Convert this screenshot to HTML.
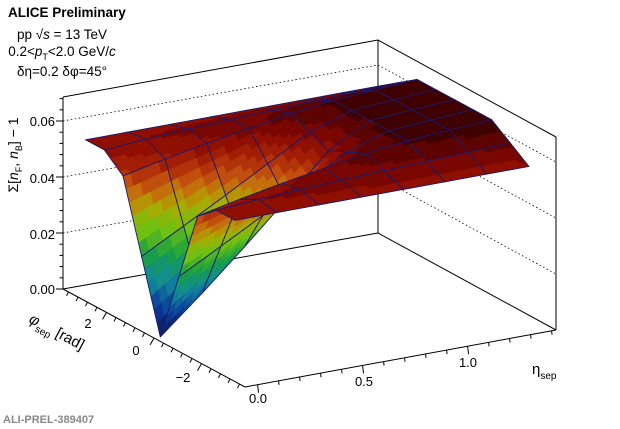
<!DOCTYPE html>
<html><head><meta charset="utf-8"><style>
html,body{margin:0;padding:0;background:#fff;width:620px;height:429px;overflow:hidden}
svg{display:block}
text{font-family:"Liberation Sans",sans-serif;fill:#000}
</style></head><body>
<svg id="s" width="620" height="429" viewBox="0 0 620 429" xmlns="http://www.w3.org/2000/svg">
<g id="box" stroke="#000" fill="none" stroke-width="1">
<line x1="63" y1="97" x2="63" y2="289"/>
<line x1="63" y1="97" x2="378" y2="40"/>
<line x1="378" y1="40" x2="378" y2="233"/>
<line x1="378" y1="40" x2="556" y2="137"/>
<line x1="556" y1="137" x2="556" y2="330"/>
<line x1="63" y1="289" x2="378" y2="233"/>
<line x1="378" y1="233" x2="556" y2="330"/>
<line x1="63" y1="289" x2="245" y2="387"/>
<line x1="245" y1="387" x2="556" y2="330"/>
</g>
<g id="grid" stroke="#000" stroke-width="0.8" stroke-dasharray="1.5,2.5" fill="none"></g>
<g id="ticks" stroke="#000" stroke-width="1" fill="none"></g>
<g id="surf"></g>
<g font-size="13">
<text x="55" y="126" text-anchor="end">0.06</text>
<text x="55" y="183" text-anchor="end">0.04</text>
<text x="55" y="239" text-anchor="end">0.02</text>
<text x="55" y="294" text-anchor="end">0.00</text>
<text transform="translate(18,155) rotate(-90)" text-anchor="middle" font-size="14">Σ[<tspan font-style="italic">n</tspan><tspan font-size="9" dy="4">F</tspan><tspan dy="-4">, </tspan><tspan font-style="italic">n</tspan><tspan font-size="9" dy="4">B</tspan><tspan dy="-4">] − 1</tspan></text>
<text x="88" y="328" text-anchor="middle">2</text>
<text x="136" y="355" text-anchor="middle">0</text>
<text x="183" y="382" text-anchor="middle">−2</text>
<text transform="translate(28,322) rotate(28)" font-size="15" font-style="italic">φ<tspan font-size="10" font-style="normal" dy="5">sep</tspan><tspan font-style="normal" dy="-5"> [rad]</tspan></text>
<text x="258" y="403" text-anchor="middle">0.0</text>
<text x="364" y="386" text-anchor="middle">0.5</text>
<text x="468" y="367" text-anchor="middle">1.0</text>
<text x="532" y="374" font-size="15">η<tspan font-size="10" dy="5">sep</tspan></text>
</g>
<g font-size="13.5">
<text x="8" y="17" font-weight="bold">ALICE Preliminary</text>
<text x="62" y="39" text-anchor="middle">pp √<tspan font-style="italic">s</tspan> = 13 TeV</text>
<text x="62" y="56" text-anchor="middle">0.2&lt;<tspan font-style="italic">p</tspan><tspan font-size="9" dy="4">T</tspan><tspan dy="-4">&lt;2.0 GeV/</tspan><tspan font-style="italic">c</tspan></text>
<text x="62" y="76" text-anchor="middle">δη=0.2 δφ=45°</text>
</g>
<text x="3" y="423" font-family="'Liberation Mono',monospace" font-weight="bold" font-size="11" style="fill:#888">ALI-PREL-389407</text>
</svg>
<script>
(function(){
var NS="http://www.w3.org/2000/svg";
function P(e,f,z){return [154+(e+0.06)*210-f*23.75, 338-(e+0.06)*38.5-f*12.8-z*2800];}
function el(tag,attrs,parent){var n=document.createElementNS(NS,tag);for(var k in attrs)n.setAttribute(k,attrs[k]);parent.appendChild(n);return n;}
var grid=document.getElementById('grid'),ticks=document.getElementById('ticks'),surf=document.getElementById('surf');
[0.02,0.04,0.06].forEach(function(z){var dy=z*2800;
 el('polyline',{points:(63)+','+(289-dy)+' 378,'+(233-dy)+' 556,'+(330-dy)},grid);});
for(var i=0;i<=17;i++){var z=i*0.004,y=289-z*2800,maj=(i%5==0);el('line',{x1:63,y1:y,x2:maj?56:59.5,y2:y},ticks);}
for(var f=-3.6;f<=3.61;f+=0.4){var p=P(-0.06,f,0),maj=Math.abs(Math.round(f/2)*2-f)<0.01&&Math.abs(f)<3;
 el('line',{x1:p[0],y1:p[1],x2:p[0]-(maj?4:2),y2:p[1]+(maj?7:4)},ticks);}
for(var e=0;e<=1.41;e+=0.1){var p=P(e,-3.83,0),maj=Math.abs(Math.round(e*2)/2-e)<0.01;
 el('line',{x1:p[0],y1:p[1],x2:p[0]+(maj?1:0.5),y2:p[1]+(maj?8:4)},ticks);}
function d(e){var x=Math.max(0,e+0.03);return Math.max(0,1-x/0.9);}
function F(e,f){var c=Math.min(1,(Math.PI-Math.abs(f))/(Math.PI/2));
 var base=0.056+0.0095*Math.pow(Math.max(0,e)/1.37,0.7)*c;
 var v=Math.max(0,1-Math.abs(f)/1.75);
 return base*(1-d(e)*v);}
var stops=[[0,'#0c0c48'],[0.12,'#0a3a9a'],[0.25,'#128a9c'],[0.37,'#18a040'],[0.48,'#70c010'],[0.58,'#b0a800'],[0.67,'#c85a10'],[0.75,'#aa2406'],[0.82,'#8c0c00'],[0.88,'#6a0400'],[0.93,'#420000'],[1,'#280000']];
function hx(c){return [parseInt(c.substr(1,2),16),parseInt(c.substr(3,2),16),parseInt(c.substr(5,2),16)];}
function col(z){var t=z/0.0686;t=Math.floor(t*24)/24+1/48;t=Math.max(0,Math.min(1,t));
 for(var i=1;i<stops.length;i++)if(t<=stops[i][0]){var a=stops[i-1],b=stops[i],u=(t-a[0])/(b[0]-a[0]);var A=hx(a[1]),B=hx(b[1]);
 return 'rgb('+Math.round(A[0]+(B[0]-A[0])*u)+','+Math.round(A[1]+(B[1]-A[1])*u)+','+Math.round(A[2]+(B[2]-A[2])*u)+')';}
 return stops[stops.length-1][1];}
var NE=8,NF=9,es=[],fs=[];for(var i=0;i<NE;i++)es.push(-0.03+i*0.2);for(var j=0;j<NF;j++)fs.push(-Math.PI+j*Math.PI/4);
var Z=[];for(var i=0;i<NE;i++){Z[i]=[];for(var j=0;j<NF;j++)Z[i][j]=F(es[i],fs[j]);}
var quads=[];for(var i=0;i<NE-1;i++)for(var j=0;j<NF-1;j++){var ec=(es[i]+es[i+1])/2,fc=(fs[j]+fs[j+1])/2;quads.push({i:i,j:j,k:(ec+0.06)*38.5+fc*12.8});}
quads.sort(function(a,b){return b.k-a.k;});
var S=6;
quads.forEach(function(q){var i=q.i,j=q.j,z00=Z[i][j],z10=Z[i+1][j],z01=Z[i][j+1],z11=Z[i+1][j+1];
 function pt(u,v){var e=es[i]+(es[i+1]-es[i])*u,f=fs[j]+(fs[j+1]-fs[j])*v;var z=z00*(1-u)*(1-v)+z10*u*(1-v)+z01*(1-u)*v+z11*u*v;return {p:P(e,f,z),z:z};}
 var subs=[];
 for(var a=0;a<S;a++)for(var b=0;b<S;b++){var u0=a/S,u1=(a+1)/S,v0=b/S,v1=(b+1)/S;
  var c=[pt(u0,v0),pt(u1,v0),pt(u1,v1),pt(u0,v1)];var zm=(c[0].z+c[1].z+c[2].z+c[3].z)/4;
  subs.push({c:c,z:zm,k:(u0+u1)/2*0.2*38.5+(v0+v1)/2*(Math.PI/4)*12.8});}
 subs.sort(function(a,b){return b.k-a.k;});
 subs.forEach(function(s){var cl=col(s.z);el('polygon',{points:s.c.map(function(o){return o.p[0].toFixed(1)+','+o.p[1].toFixed(1);}).join(' '),fill:cl,stroke:cl,'stroke-width':'0.6'},surf);});
 var c=[pt(0,0),pt(1,0),pt(1,1),pt(0,1)];
 el('polygon',{points:c.map(function(o){return o.p[0].toFixed(1)+','+o.p[1].toFixed(1);}).join(' '),fill:'none',stroke:'#1a1a70','stroke-width':'0.9'},surf);
});
})();
</script>
</body></html>
